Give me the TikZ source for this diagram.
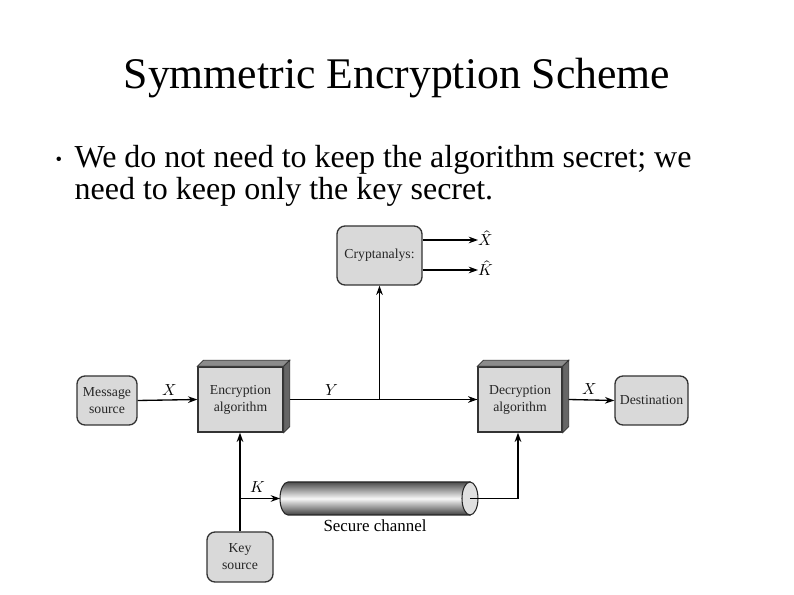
\documentclass[tikz,border=0pt]{standalone}
\usepackage{fontspec}
\setmainfont{Liberation Serif}
\usepackage{unicode-math}
\setmathfont{Latin Modern Math}
\usetikzlibrary{arrows.meta,calc}
\begin{document}
\begin{tikzpicture}[x=0.75pt,y=-0.75pt,
  line width=1pt,
  arr/.style={-{Stealth[length=7pt,width=5pt]}},
  rbox/.style={draw=black!80,fill=black!15,rounded corners=6pt,inner sep=0pt,align=center,
    font=\fontsize{10.3}{12.7}\selectfont,text=black!85},
  fbox/.style={draw=black!80,fill=black!15,inner sep=0pt,align=center,
    font=\fontsize{10.3}{12.7}\selectfont,text=black!85},
  lab/.style={font=\fontsize{12}{14}\selectfont,inner sep=0pt},
  btxt/.style={font=\fontsize{24}{32}\selectfont,anchor=base west,inner sep=0pt}]
\useasboundingbox[fill=white] (0,0) rectangle (794,595);
% title and bullet
\node[font=\fontsize{32.8}{36}\selectfont,anchor=base] (title) at (397,89) {Symmetric Encryption Scheme};
\node[font=\fontsize{14}{16}\selectfont,anchor=base,inner sep=0pt] (bul) at (59,166) {•};
\node[btxt] (txt1) at (74,168) {We do not need to keep the algorithm secret; we};
\node[btxt] (txt2) at (74,200) {need to keep only the key secret.};
% boxes
\node[rbox,minimum width=45pt,minimum height=36.75pt] (msg) at (107,400.5) {Message\\source};
\node[fbox,minimum width=63.75pt,minimum height=48.75pt] (enc) at (240.5,399.5) {Encryption\\algorithm};
\node[fbox,minimum width=63pt,minimum height=48.75pt] (dec) at (520,399.5) {Decryption\\algorithm};
\node[rbox,minimum width=54.75pt,minimum height=36.75pt] (dest) at (651.5,400.5) {Destination};
\node[rbox,minimum width=63.75pt,minimum height=44.25pt] (crypt) at (379.5,255.5) {Cryptanalys:};
\node[rbox,minimum width=49.5pt,minimum height=37.5pt] (key) at (240,557) {Key\\source};
% 3D faces
\foreach \b in {enc,dec}{
  \draw[draw=black!80,fill=black!45,line width=0.6pt] (\b.north west) -- ++(6,-6) -- ($(\b.north east)+(6,-6)$) -- (\b.north east) -- cycle;
  \draw[draw=black!80,fill=black!60,line width=0.6pt] (\b.north east) -- ++(6,-6) -- ($(\b.south east)+(6,-6)$) -- (\b.south east) -- cycle;
}
% cylinder
\coordinate (cylL) at (280,498.5);
\coordinate (cylR) at (470,498.5);
\shade[top color=black!70,bottom color=black!75,middle color=black!3,draw=black!85,line width=0.8pt]
  (470,482) -- (288,482) arc[start angle=270,end angle=90,x radius=8,y radius=16.5] -- (470,515) -- cycle;
\draw[draw=black!85,fill=black!12,line width=0.8pt] (cylR) ellipse[x radius=8,y radius=16.5];
\node[font=\fontsize{12.7}{14}\selectfont,anchor=base] (sc) at (375,532) {Secure channel};
% labels
\node[lab] (lx1) at (170,390) {$X$};
\node[lab] (ly) at (332,390) {$Y$};
\node[lab] (lx2) at (590,389) {$X$};
\node[lab] (lk) at (258,487) {$K$};
\node[lab,anchor=west] (xh) at (478,238) {$\hat{X}$};
\node[lab,anchor=west] (kh) at (478,268) {$\hat{K}$};
% connectors
\draw[arr] (msg.east) -- (enc.west);
\draw ($(enc.east)+(6,0)$) -- (dec.west);
\draw[arr] (dec.west) ++(-10,0) -- (dec.west);
\draw[arr] ($(dec.east)+(6,0)$) -- (dest.west);
\draw[arr] (crypt.south |- enc.east) -- (crypt.south);
\draw[arr] (crypt.east |- 0,240) -- (xh.west |- 0,240);
\draw[arr] (crypt.east |- 0,270) -- (kh.west |- 0,270);
\draw[arr] (key.north) -- (key.north |- enc.south);
\draw[arr] (key.north |- cylL) -- (cylL);
\draw[arr] (cylR) -| ($(dec.south)+(-2,0)$);
\end{tikzpicture}
\end{document}
